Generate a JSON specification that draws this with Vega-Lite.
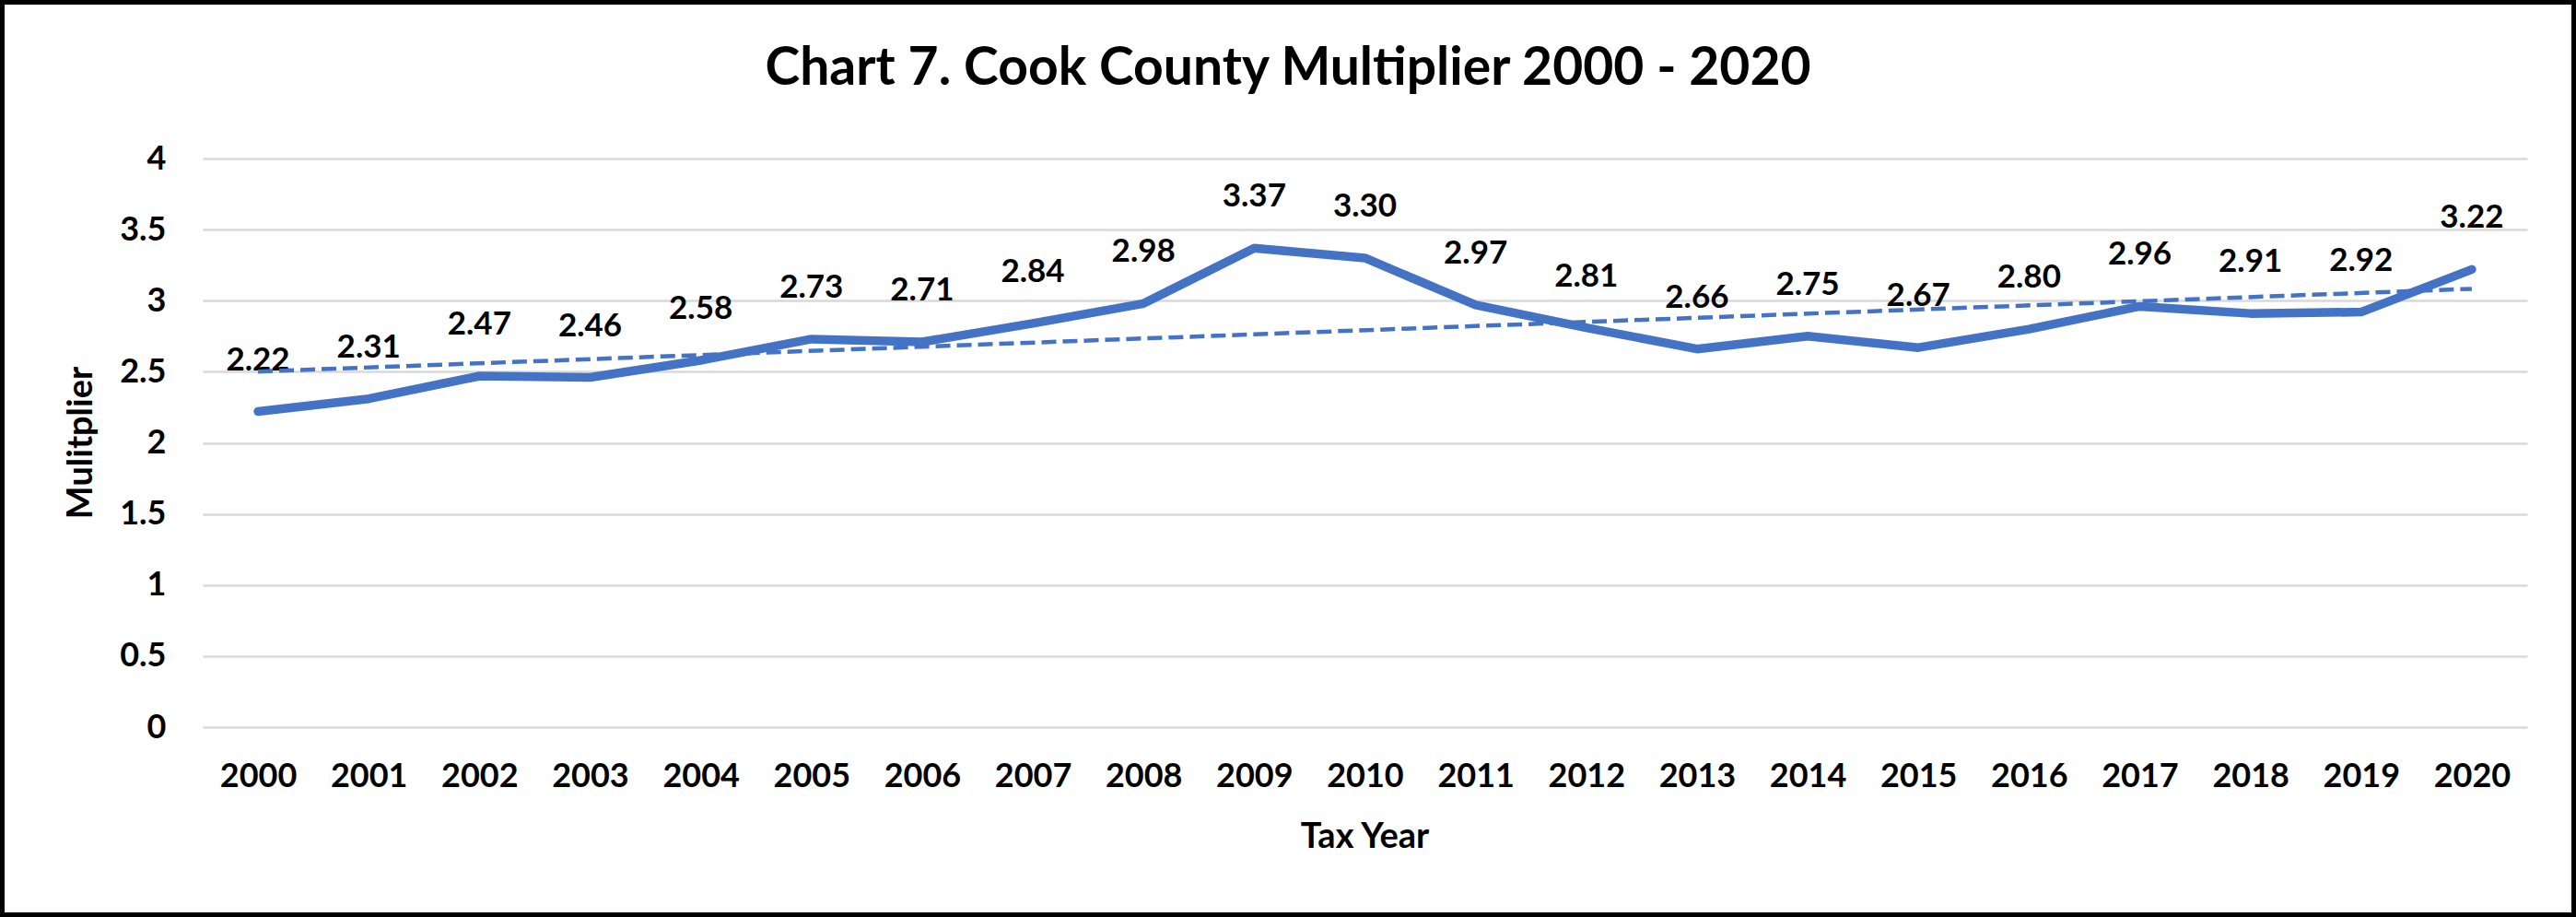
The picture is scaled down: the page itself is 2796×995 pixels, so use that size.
{
  "$schema": "https://vega.github.io/schema/vega-lite/v6.json",
  "width": 2796,
  "height": 995,
  "autosize": {"type": "none"},
  "padding": 0,
  "background": "white",
  "view": {"stroke": "black", "strokeWidth": 10, "fill": "white"},
  "title": {
    "text": "Chart 7. Cook County Multiplier 2000 - 2020",
    "font": "Lato",
    "fontSize": 57,
    "fontWeight": "bold",
    "color": "black",
    "anchor": "middle",
    "frame": "group",
    "baseline": "alphabetic",
    "offset": 0,
    "dy": 149
  },
  "data": {
    "values": [
      {"year": 2000, "multiplier": 2.22},
      {"year": 2001, "multiplier": 2.31},
      {"year": 2002, "multiplier": 2.47},
      {"year": 2003, "multiplier": 2.46},
      {"year": 2004, "multiplier": 2.58},
      {"year": 2005, "multiplier": 2.73},
      {"year": 2006, "multiplier": 2.71},
      {"year": 2007, "multiplier": 2.84},
      {"year": 2008, "multiplier": 2.98},
      {"year": 2009, "multiplier": 3.37},
      {"year": 2010, "multiplier": 3.30},
      {"year": 2011, "multiplier": 2.97},
      {"year": 2012, "multiplier": 2.81},
      {"year": 2013, "multiplier": 2.66},
      {"year": 2014, "multiplier": 2.75},
      {"year": 2015, "multiplier": 2.67},
      {"year": 2016, "multiplier": 2.80},
      {"year": 2017, "multiplier": 2.96},
      {"year": 2018, "multiplier": 2.91},
      {"year": 2019, "multiplier": 2.92},
      {"year": 2020, "multiplier": 3.22}
    ]
  },
  "encoding": {
    "x": {
      "field": "year",
      "type": "quantitative",
      "scale": {"domain": [1999.5, 2020.5], "range": [220, 2743], "nice": false, "zero": false},
      "axis": {
        "values": [2000, 2001, 2002, 2003, 2004, 2005, 2006, 2007, 2008, 2009, 2010, 2011, 2012, 2013, 2014, 2015, 2016, 2017, 2018, 2019, 2020],
        "format": "d",
        "grid": false,
        "domain": false,
        "ticks": false,
        "tickSize": 0,
        "offset": -206,
        "labelFont": "Lato",
        "labelFontSize": 36,
        "labelFontWeight": "bold",
        "labelColor": "black",
        "labelPadding": 36,
        "labelFlush": false,
        "labelOverlap": false,
        "title": "Tax Year",
        "titleFont": "Lato",
        "titleFontSize": 38,
        "titleFontWeight": "bold",
        "titleColor": "black",
        "titleX": 1481,
        "titleY": 119,
        "titleAlign": "center",
        "titleBaseline": "middle"
      }
    },
    "y": {
      "field": "multiplier",
      "type": "quantitative",
      "scale": {"domain": [0, 4], "range": [789, 172], "nice": false, "zero": true},
      "axis": {
        "values": [0, 0.5, 1, 1.5, 2, 2.5, 3, 3.5, 4],
        "format": "~g",
        "grid": true,
        "gridColor": "#D9D9D9",
        "gridWidth": 2.5,
        "domain": false,
        "ticks": false,
        "tickSize": 0,
        "offset": -220,
        "labelFont": "Lato",
        "labelFontSize": 36,
        "labelFontWeight": "bold",
        "labelColor": "black",
        "labelPadding": 40,
        "labelOverlap": false,
        "title": "Mulitplier",
        "titleFont": "Lato",
        "titleFontSize": 38,
        "titleFontWeight": "bold",
        "titleColor": "black",
        "titleAngle": -90,
        "titleX": -132,
        "titleY": 480,
        "titleAlign": "center",
        "titleBaseline": "middle"
      }
    }
  },
  "layer": [
    {
      "mark": {"type": "line", "color": "#4472C4", "strokeWidth": 9.5, "strokeJoin": "round", "strokeCap": "round"}
    },
    {
      "mark": {"type": "text", "dy": -56, "font": "Lato", "fontSize": 35, "fontWeight": "bold", "color": "black", "baseline": "middle", "align": "center"},
      "encoding": {
        "text": {"field": "multiplier", "type": "quantitative", "format": ".2f"}
      }
    },
    {
      "transform": [{"regression": "multiplier", "on": "year"}],
      "mark": {"type": "line", "color": "#4472C4", "strokeWidth": 4.5, "strokeDash": [16, 7]}
    }
  ]
}
